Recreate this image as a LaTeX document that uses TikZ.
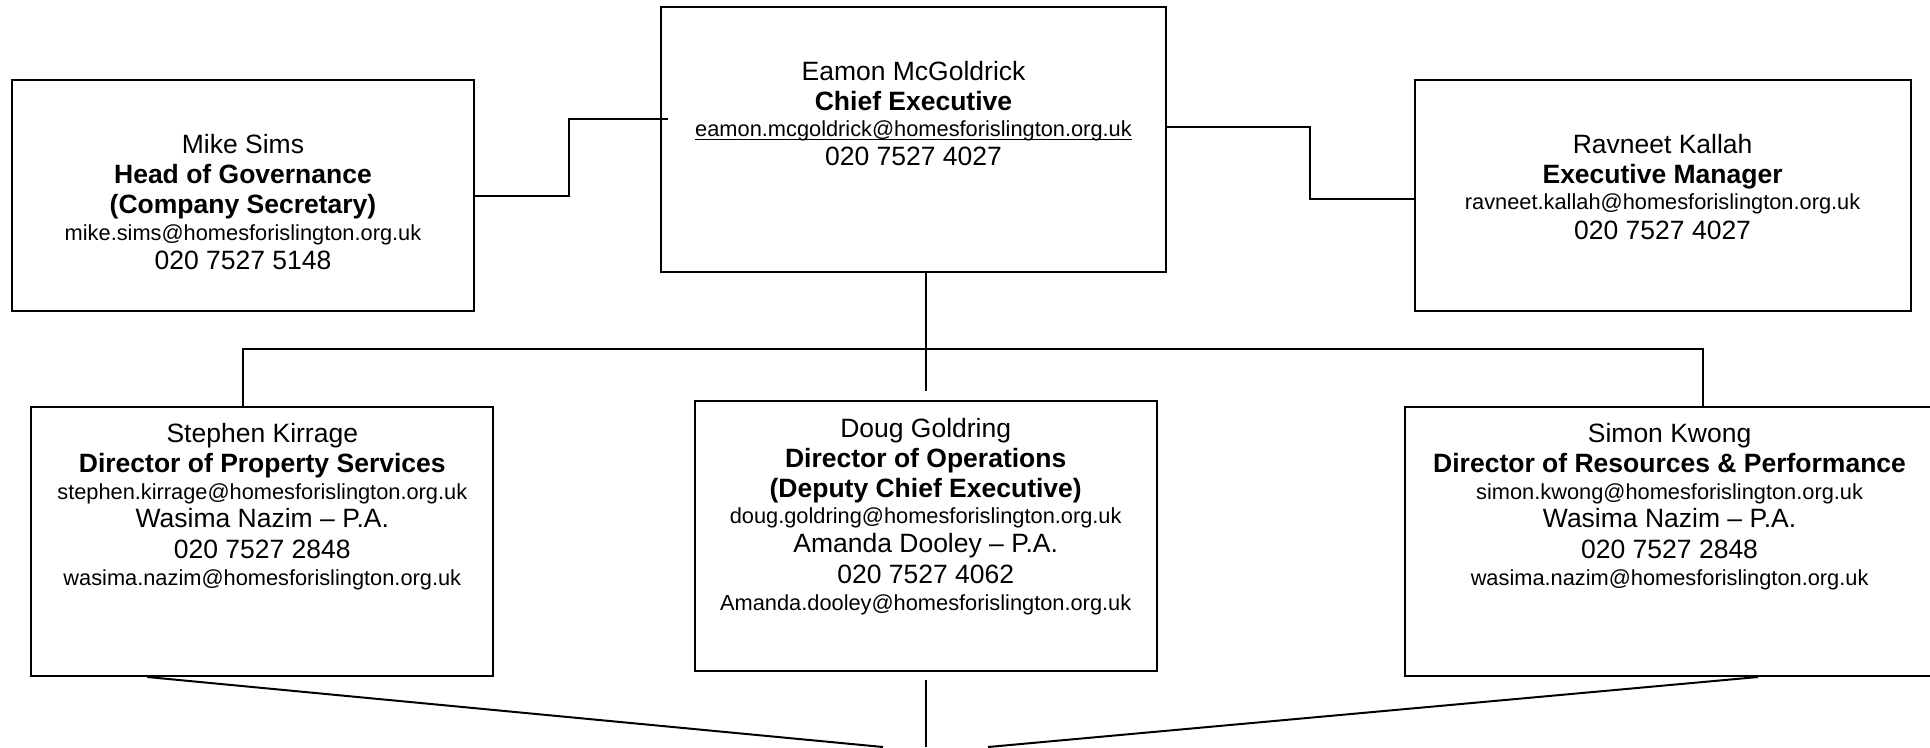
\documentclass[tikz,border=0pt]{standalone}
\usepackage{fontspec}
\setmainfont{Liberation Sans}
\newcommand\fmain{\fontsize{26.5}{30}\selectfont}
\newcommand\fsmall{\fontsize{21.8}{25}\selectfont}
\tikzset{
  box/.style={draw, line width=2pt, inner sep=0pt, rectangle},
  conn/.style={line width=2pt},
  nm/.style={anchor=base, inner sep=0pt, font=\fmain},
  tt/.style={anchor=base, inner sep=0pt, font=\fmain\bfseries},
  ml/.style={anchor=base, inner sep=0pt, font=\fsmall},
}
\begin{document}
\begin{tikzpicture}[x=1pt,y=-1pt]
\fill[white] (0,0) rectangle (1930,747);
\useasboundingbox (0,0) rectangle (1930,747);

% boxes
\node[box, minimum width=462pt, minimum height=231pt] (mike) at (243,195.5) {};
\node[box, minimum width=505pt, minimum height=264.4pt] (ceo) at (913.5,139.5) {};
\node[box, minimum width=496.2pt, minimum height=231pt] (rav) at (1662.6,195.5) {};
\node[box, minimum width=462.1pt, minimum height=269.3pt] (steph) at (262.25,541.35) {};
\node[box, minimum width=461.6pt, minimum height=269.7pt] (doug) at (925.7,535.85) {};
\node[box, minimum width=528.7pt, minimum height=269.3pt] (simon) at (1669.65,541.35) {};

% Mike Sims
\node[nm] (mike1) at (243,153.3) {Mike Sims};
\node[tt] (mike2) at (243,183.3) {Head of Governance};
\node[tt] (mike3) at (243,213.3) {(Company Secretary)};
\node[ml] (mike4) at (243,240.7) {mike.sims@homesforislington.org.uk};
\node[nm] (mike5) at (243,269.3) {020 7527 5148};

% CEO
\node[nm] (ceo1) at (913.5,80) {Eamon McGoldrick};
\node[tt] (ceo2) at (913.5,110) {Chief Executive};
\node[ml] (ceo3) at (913.5,136.7) {eamon.mcgoldrick@homesforislington.org.uk};
\draw[line width=1.5pt] ([yshift=-2.8pt]ceo3.base west) -- ([yshift=-2.8pt]ceo3.base east);
\node[nm] (ceo4) at (913.5,165.7) {020 7527 4027};

% Ravneet
\node[nm] (rav1) at (1662.6,153.3) {Ravneet Kallah};
\node[tt] (rav2) at (1662.6,183.3) {Executive Manager};
\node[ml] (rav3) at (1662.6,209) {ravneet.kallah@homesforislington.org.uk};
\node[nm] (rav4) at (1662.6,239) {020 7527 4027};

% Stephen
\node[nm] (st1) at (262.3,442.7) {Stephen Kirrage};
\node[tt] (st2) at (262.3,472.7) {Director of Property Services};
\node[ml] (st3) at (262.3,499.3) {stephen.kirrage@homesforislington.org.uk};
\node[nm] (st4) at (262.3,527.3) {Wasima Nazim – P.A.};
\node[nm] (st5) at (262.3,558.3) {020 7527 2848};
\node[ml] (st6) at (262.3,585) {wasima.nazim@homesforislington.org.uk};

% Doug
\node[nm] (dg1) at (925.7,437.3) {Doug Goldring};
\node[tt] (dg2) at (925.7,467.3) {Director of Operations};
\node[tt] (dg3) at (925.7,497.3) {(Deputy Chief Executive)};
\node[ml] (dg4) at (925.7,523.3) {doug.goldring@homesforislington.org.uk};
\node[nm] (dg5) at (925.7,552.3) {Amanda Dooley – P.A.};
\node[nm] (dg6) at (925.7,583.3) {020 7527 4062};
\node[ml] (dg7) at (925.7,610) {Amanda.dooley@homesforislington.org.uk};

% Simon
\node[nm] (sk1) at (1669.6,442.7) {Simon Kwong};
\node[tt] (sk2) at (1669.6,472.7) {Director of Resources \& Performance};
\node[ml] (sk3) at (1669.6,499.3) {simon.kwong@homesforislington.org.uk};
\node[nm] (sk4) at (1669.6,527.3) {Wasima Nazim – P.A.};
\node[nm] (sk5) at (1669.6,558.3) {020 7527 2848};
\node[ml] (sk6) at (1669.6,585) {wasima.nazim@homesforislington.org.uk};

% connector coordinates
\coordinate (mj) at (569,119.3);
\coordinate (me) at (668,119.3);
\coordinate (r1) at (1310,127.3);
\coordinate (r2) at (1310,199.3);
\coordinate (bj) at (925.7,349);
\coordinate (bl) at (243,349);
\coordinate (br) at (1703,349);
\coordinate (dl) at (147.3,0);
\coordinate (dr) at (1758,0);
\coordinate (bot) at (925.7,747);
\coordinate (botl) at (883,747);
\coordinate (botr) at (988,747);

% connectors
\draw[conn] (mike.east) -| (mj) -- (me);
\draw[conn] (ceo.east |- r1) -- (r1) -- (r2) -- (rav.west |- r2);
\draw[conn] (ceo.south -| bj) -- ([yshift=9.3pt]doug.north);
\draw[conn] (steph.north -| bl) -- (bl) -- (br) -- (simon.north -| br);
\draw[conn] ([yshift=-8.6pt]doug.south) -- (bot);
\draw[conn] (steph.south -| dl) -- (botl);
\draw[conn] (botr) -- (simon.south -| dr);
\end{tikzpicture}
\end{document}
